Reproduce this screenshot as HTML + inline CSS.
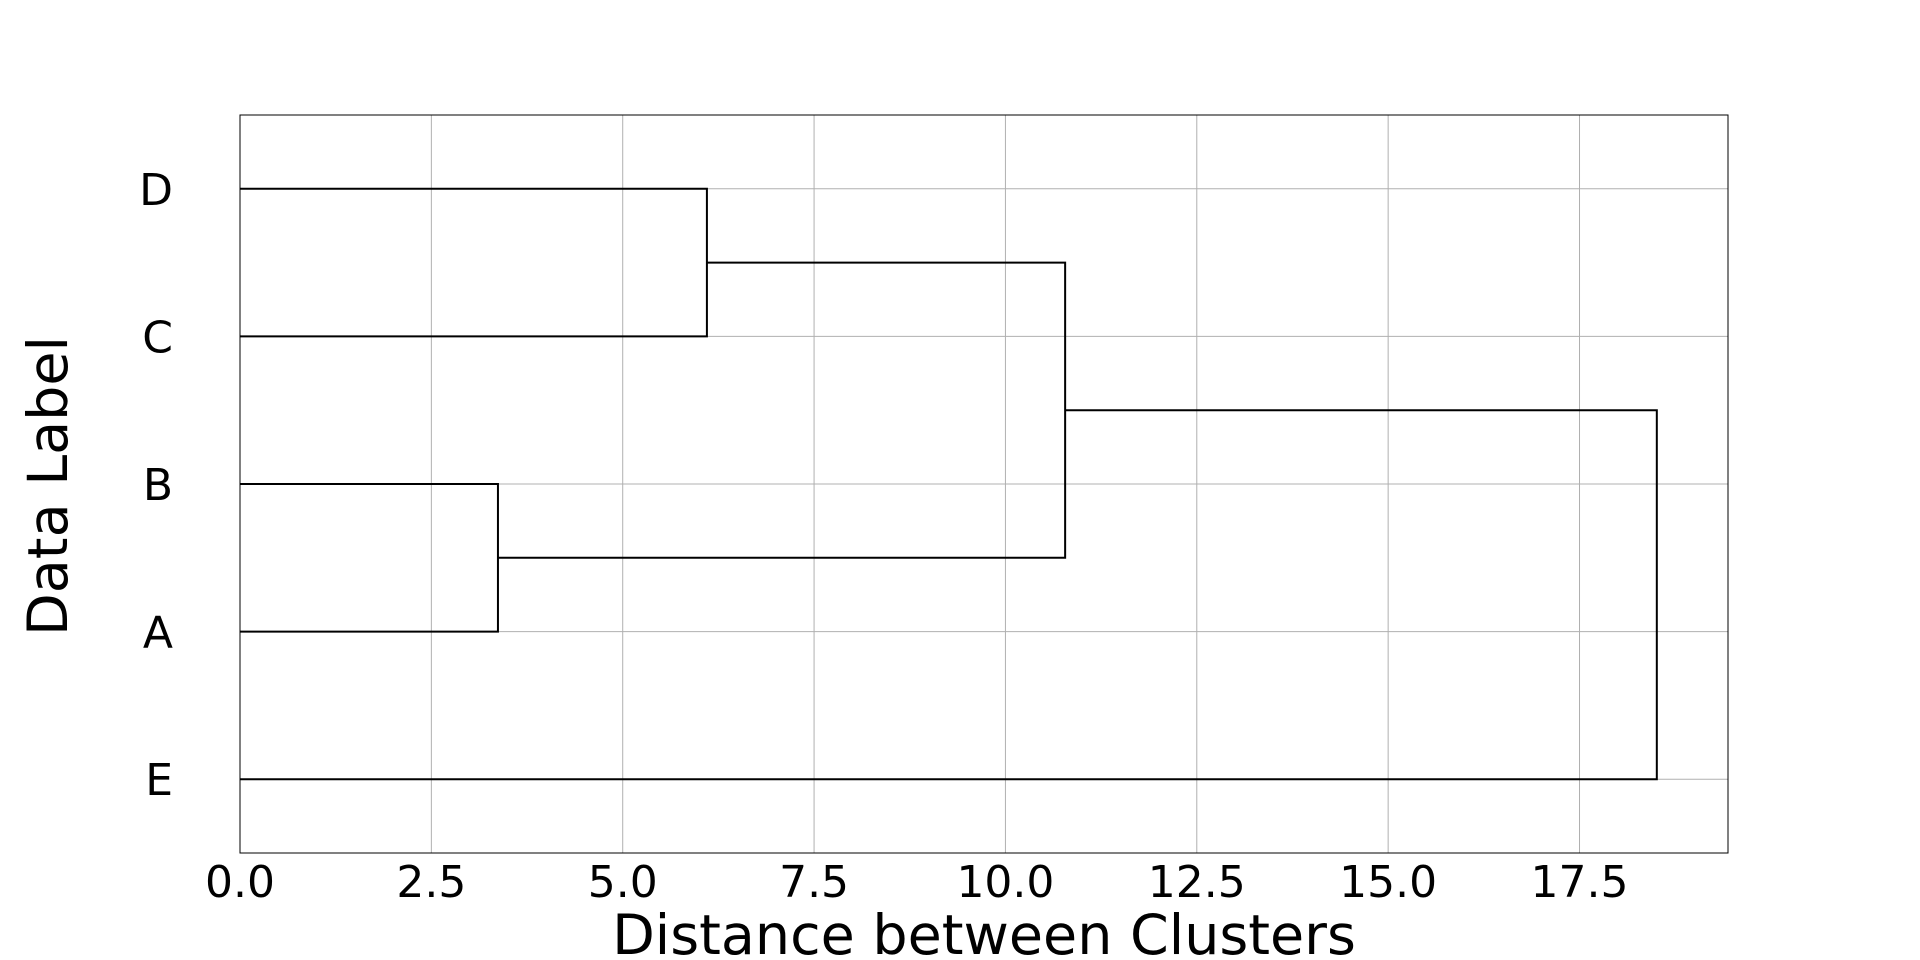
<!DOCTYPE html>
<html><head><meta charset="utf-8"><style>
html,body{margin:0;padding:0;background:#fff;}
svg{display:block;font-family:"DejaVu Sans","Liberation Sans",sans-serif;}
</style></head><body>
<svg id="chart" width="1920" height="960" viewBox="0 0 1920 960" xmlns="http://www.w3.org/2000/svg"></svg>
<script>
const leafLabels = ["E","A","B","C","D"];
const leafPositions = [5,15,25,35,45];
const mergeHeights = [3.37, 6.1, 10.78, 18.51];
const mergeChildY = [[15,25],[35,45],[20,40],[5,30]];
const mergeChildH = [[0,0],[0,0],[3.37,6.1],[0,10.78]];
const xTicks = [0,2.5,5,7.5,10,12.5,15,17.5];
const xTickLabels = ["0.0","2.5","5.0","7.5","10.0","12.5","15.0","17.5"];

const L=240,R=1728,T=115,B=853;
const xMax=19.44, yMax=50;
const sx=v=>L+v/xMax*(R-L);
const sy=v=>B-v/yMax*(B-T);
const svg=document.getElementById('chart');
const NS="http://www.w3.org/2000/svg";
function mk(tag,attrs,txt){const e=document.createElementNS(NS,tag);for(const k in attrs)e.setAttribute(k,attrs[k]);if(txt!==undefined)e.textContent=txt;svg.appendChild(e);return e;}

const pa=mk('rect',{x:L,y:T,width:R-L,height:B-T,fill:'#fff'});


xTicks.forEach((t,i)=>{
  const g=mk('line',{x1:sx(t),x2:sx(t),y1:T,y2:B,stroke:'#b0b0b0','stroke-width':1});
  
  
  const tl=mk('text',{x:sx(t),y:897,'font-size':44,'text-anchor':'middle',fill:'#000'},xTickLabels[i]);
  
  
});
leafPositions.forEach((p,i)=>{
  const g=mk('line',{x1:L,x2:R,y1:sy(p),y2:sy(p),stroke:'#b0b0b0','stroke-width':1});
  
  
  const tl=mk('text',{x:173,y:sy(p)+16,'font-size':44,'text-anchor':'end',fill:'#000'},leafLabels[i]);
  
  
});
mergeHeights.forEach((h,i)=>{
  const [y1,y2]=mergeChildY[i],[h1,h2]=mergeChildH[i];
  const p=mk('path',{d:`M${sx(h1)},${sy(y1)}H${sx(h)}V${sy(y2)}H${sx(h2)}`,fill:'none',stroke:'#000','stroke-width':2});
  
  
});
const fr=mk('rect',{x:L,y:T,width:R-L,height:B-T,fill:'none',stroke:'#000','stroke-width':1});


const xl=mk('text',{x:(L+R)/2,y:954,'font-size':55.5,'text-anchor':'middle',fill:'#000'},'Distance between Clusters');


const yl=mk('text',{x:0,y:0,'font-size':55.5,'text-anchor':'middle',fill:'#000',transform:'translate(67,486) rotate(-90)'},'Data Label');


</script>
</body></html>
